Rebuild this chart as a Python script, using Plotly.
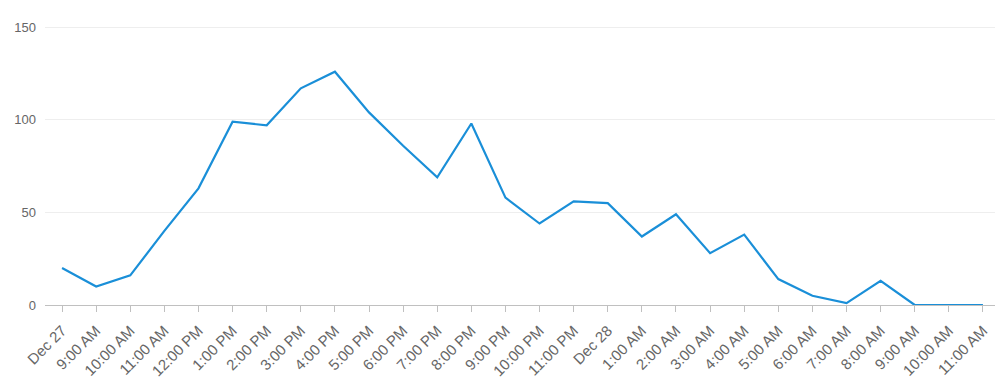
import plotly.graph_objects as go

labels = ["Dec 27", "9:00 AM", "10:00 AM", "11:00 AM", "12:00 PM", "1:00 PM", "2:00 PM",
          "3:00 PM", "4:00 PM", "5:00 PM", "6:00 PM", "7:00 PM", "8:00 PM", "9:00 PM",
          "10:00 PM", "11:00 PM", "Dec 28", "1:00 AM", "2:00 AM", "3:00 AM", "4:00 AM",
          "5:00 AM", "6:00 AM", "7:00 AM", "8:00 AM", "9:00 AM", "10:00 AM", "11:00 AM"]
values = [20, 10, 16, 40, 63, 99, 97, 117, 126, 104, 86, 69, 98, 58, 44, 56, 55, 37, 49,
          28, 38, 14, 5, 1, 13, 0, 0, 0]
y_ticks = [0, 50, 100, 150]

idx = list(range(len(labels)))

fig = go.Figure()
fig.add_trace(go.Scatter(x=idx, y=values, mode="lines",
                         line=dict(color="#1a8fd8", width=2.2), hoverinfo="y"))

fig.update_layout(
    width=1003, height=392,
    margin=dict(l=37, r=11, t=12, b=95),
    paper_bgcolor="white", plot_bgcolor="white",
    showlegend=False,
    font=dict(family="Arial, Liberation Sans, sans-serif", size=12, color="#666666"),
)
fig.update_xaxes(
    tickmode="array", tickvals=idx, ticktext=labels, tickangle=-45,
    range=[-0.5, len(labels) - 0.5], automargin=False,
    showgrid=False, zeroline=False,
    showline=True, linecolor="#c0c0c0", linewidth=1,
    ticks="outside", ticklen=6, tickcolor="#c0c0c0", ticklabelstandoff=4,
    tickfont=dict(size=15, color="#666666"),
)
fig.update_yaxes(
    range=[0, 153.9], tickvals=y_ticks, automargin=False,
    showgrid=True, gridcolor="#eeeeee", gridwidth=1,
    zeroline=False, showline=False, ticks="", ticklabelstandoff=8,
    tickfont=dict(size=13, color="#666666"),
)

fig.write_html("out.html")
